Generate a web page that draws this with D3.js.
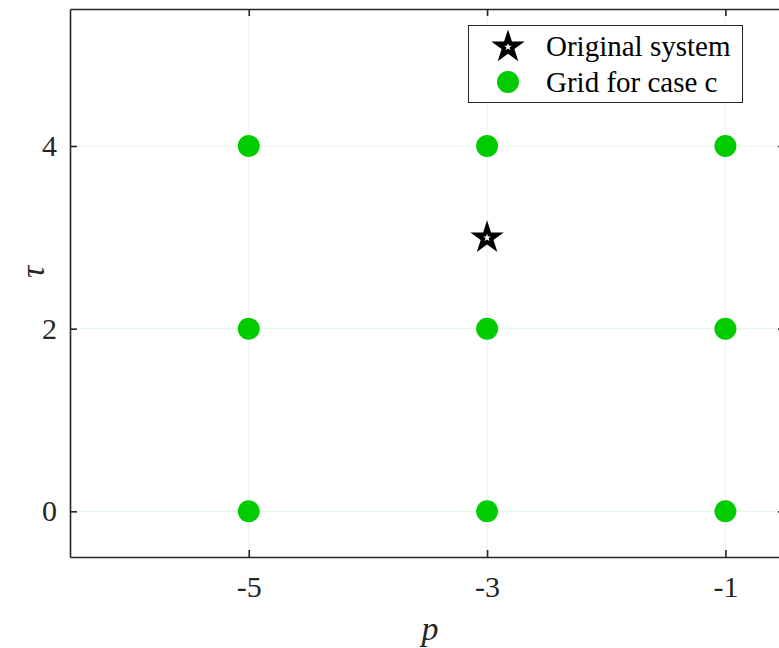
<!DOCTYPE html>
<html><head><meta charset="utf-8">
<script src="https://cdnjs.cloudflare.com/ajax/libs/d3/7.8.5/d3.min.js"></script>
<style>body{margin:0;background:#fff;} svg{display:block;}</style>
</head><body>
<svg id="c" width="779" height="648"></svg>
<script>
const xTicks = [-5, -3, -1];
const yTicks = [0, 2, 4];
const gridP = [-5, -3, -1, -5, -3, -1, -5, -3, -1];
const gridTau = [4, 4, 4, 2, 2, 2, 0, 0, 0];
const origP = [-3];
const origTau = [3];
const legendLabels = ["Original system", "Grid for case c"];

const svg = d3.select("#c");
const L = 70, T = 9, R = 785, B = 557;
const x = d3.scaleLinear().domain([-6.5, -0.5]).range([L, R]);
const y = d3.scaleLinear().domain([-0.5, 5.5]).range([B, T]);
const font = "'Liberation Serif','Times New Roman',serif";
const axisCol = "#262626";

// grid
const g = svg.append("g");
g.selectAll("line.gx").data(xTicks).join("line")
  .attr("x1", d => x(d)).attr("x2", d => x(d)).attr("y1", T).attr("y2", B)
  .attr("stroke", "#e3f7e3").attr("stroke-width", 1);
g.selectAll("line.gy").data(yTicks).join("line")
  .attr("y1", d => y(d)).attr("y2", d => y(d)).attr("x1", L).attr("x2", R)
  .attr("stroke", "#e3f7e3").attr("stroke-width", 1);

// axes
const ax = svg.append("g");
const xb = ax.append("g").attr("transform", `translate(0,${B})`)
  .call(d3.axisBottom(x).tickValues(xTicks).tickSizeInner(-7).tickSizeOuter(0).tickPadding(19).tickFormat(d3.format("d")));
const xt = ax.append("g").attr("transform", `translate(0,${T})`)
  .call(d3.axisTop(x).tickValues(xTicks).tickSizeInner(-7).tickSizeOuter(0).tickFormat(""));
const yl = ax.append("g").attr("transform", `translate(${L},0)`)
  .call(d3.axisLeft(y).tickValues(yTicks).tickSizeInner(-7).tickSizeOuter(0).tickPadding(13).tickFormat(d3.format("d")));
const yr = ax.append("g").attr("transform", `translate(${R},0)`)
  .call(d3.axisRight(y).tickValues(yTicks).tickSizeInner(-7).tickSizeOuter(0).tickFormat(""));
[xb, xt, yl, yr].forEach(a => {
  a.select(".domain").attr("stroke", axisCol).attr("stroke-width", 1.6);
  a.selectAll(".tick line").attr("stroke", axisCol).attr("stroke-width", 1.6);
  a.selectAll(".tick text").attr("fill", axisCol).style("font-family", font).style("font-size", "30px");
});
xb.selectAll(".tick text").text(d => d < 0 ? "-" + Math.abs(d) : d);

// points
svg.append("g").selectAll("circle").data(gridP.map((p, i) => [p, gridTau[i]])).join("circle")
  .attr("cx", d => x(d[0])).attr("cy", d => y(d[1])).attr("r", 11).attr("fill", "#00cc00");

function starPath(cx, cy, ro, ri) {
  let s = "";
  for (let k = 0; k < 10; k++) {
    const a = -Math.PI / 2 + k * Math.PI / 5;
    const r = k % 2 === 0 ? ro : ri;
    s += (k === 0 ? "M" : "L") + (cx + r * Math.cos(a)).toFixed(2) + "," + (cy + r * Math.sin(a)).toFixed(2);
  }
  return s + "Z";
}
const st = svg.append("g");
origP.forEach((p, i) => {
  st.append("path").attr("d", starPath(x(p), y(origTau[i]) + 0.5, 17.5, 6.7)).attr("fill", "#000");
  st.append("path").attr("d", starPath(x(p), y(origTau[i]) + 0.5, 4, 1.6)).attr("fill", "#fff");
});

// legend
const lg = svg.append("g");
lg.append("rect").attr("x", 468.5).attr("y", 25.5).attr("width", 274).attr("height", 77)
  .attr("fill", "#fff").attr("stroke", axisCol).attr("stroke-width", 1);
lg.append("path").attr("d", starPath(508, 47, 17.5, 6.7)).attr("fill", "#000");
lg.append("path").attr("d", starPath(508, 47, 4, 1.6)).attr("fill", "#fff");
lg.append("circle").attr("cx", 508).attr("cy", 82).attr("r", 11).attr("fill", "#00cc00");
lg.selectAll("text").data(legendLabels).join("text")
  .attr("x", 546).attr("y", (d, i) => 56 + i * 36)
  .style("font-family", font).style("font-size", "29px").attr("fill", "#000").text(d => d);

// axis labels
svg.append("text").attr("x", 430).attr("y", 640).attr("text-anchor", "middle")
  .style("font-family", font).style("font-size", "34px").style("font-style", "italic").attr("fill", axisCol).text("p");
svg.append("text").attr("transform", "translate(44,272) rotate(-90)").attr("text-anchor", "middle")
  .style("font-family", font).style("font-size", "34px").style("font-style", "italic").attr("fill", axisCol).text("τ");
</script>
</body></html>
